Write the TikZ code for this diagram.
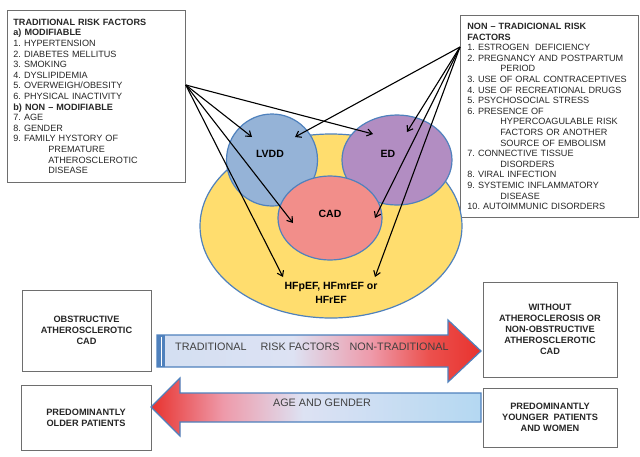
\documentclass[tikz,border=0pt]{standalone}
\usepackage{fontspec}
\setmainfont{Liberation Sans}
\usepackage{xcolor}
\usetikzlibrary{shapes.geometric, arrows.meta, calc}
\frenchspacing
\definecolor{bordoblu}{HTML}{4F81BD}
\definecolor{gialloHF}{HTML}{FFDD6E}
\definecolor{bluLVDD}{HTML}{95B3D7}
\definecolor{violaED}{HTML}{B28DC2}
\definecolor{rossoCAD}{HTML}{F28E8A}
\definecolor{grigiotesto}{HTML}{404040}
\definecolor{grigiobordo}{HTML}{6E6E6E}
\definecolor{rossofreccia}{HTML}{E8322E}
\definecolor{azzurrochiaro}{HTML}{D3DFF2}
\definecolor{azzurrofreccia}{HTML}{B4D8F2}
\definecolor{lilla}{HTML}{DDE2F3}
\definecolor{rosa}{HTML}{EE9AAA}
\pgfdeclarehorizontalshading{frecciadestra}{100bp}{color(0bp)=(azzurrochiaro); color(25bp)=(azzurrochiaro); color(46bp)=(lilla); color(58bp)=(rosa); color(67bp)=(rossofreccia!85!white); color(75bp)=(rossofreccia); color(100bp)=(rossofreccia)}
\pgfdeclarehorizontalshading{frecciasinistra}{100bp}{color(0bp)=(rossofreccia); color(25bp)=(rossofreccia); color(36bp)=(rosa); color(48bp)=(lilla); color(75bp)=(azzurrofreccia); color(100bp)=(azzurrofreccia)}
\tikzset{
  riquadro/.style = {draw=grigiobordo, line width=0.8pt, fill=white, inner sep=0pt, anchor=north west, align=left, text=black!85, font=\fontsize{9.1}{10.6}\selectfont},
  casella/.style = {draw=grigiobordo, line width=0.8pt, inner sep=0pt, align=center, text=black!85, font=\fontsize{9.2}{10.9}\selectfont\bfseries},
  insieme/.style = {ellipse, draw=bordoblu, line width=1.2pt, inner sep=0pt},
  etichetta/.style = {align=center, inner sep=0pt, font=\fontsize{10.5}{14.5}\selectfont\bfseries},
  testofreccia/.style = {inner sep=0pt, text=grigiotesto, font=\fontsize{10.8}{12}\selectfont},
  freccia/.style = {-{Straight Barb[length=5pt, width=7pt]}, line width=1.1pt}
}

\begin{document}
\begin{tikzpicture}[x=1pt, y=-1pt]
    \useasboundingbox (0,0) rectangle (640,456);
    % Fattori tradizionali
    \node[riquadro, minimum width=178, minimum height=172, text width=166] (tradizionali) at (7,10){\textbf{TRADITIONAL RISK FACTORS}\\
      \textbf{a) MODIFIABLE}\\
      1. HYPERTENSION\\
      2. DIABETES MELLITUS\\
      3. SMOKING\\
      4. DYSLIPIDEMIA\\
      5. OVERWEIGH/OBESITY\\
      6. PHYSICAL INACTIVITY\\
      \textbf{b) NON -- MODIFIABLE}\\
      7. AGE\\
      8. GENDER\\
      9. FAMILY HYSTORY OF\\
      \hspace*{35pt}PREMATURE\\
      \hspace*{35pt}ATHEROSCLEROTIC\\
      \hspace*{35pt}DISEASE};
    % Fattori non tradizionali
    \node[riquadro, minimum width=178, minimum height=202, text width=164] (nontradizionali) at (460,15){\textbf{NON -- TRADICIONAL RISK}\\
      \textbf{FACTORS}\\
      1. ESTROGEN\ \ DEFICIENCY\\
      2. PREGNANCY AND POSTPARTUM\\
      \hspace*{33pt}PERIOD\\
      3. USE OF ORAL CONTRACEPTIVES\\
      4. USE OF RECREATIONAL DRUGS\\
      5. PSYCHOSOCIAL STRESS\\
      6. PRESENCE OF\\
      \hspace*{33pt}HYPERCOAGULABLE RISK\\
      \hspace*{33pt}FACTORS OR ANOTHER\\
      \hspace*{33pt}SOURCE OF EMBOLISM\\
      7. CONNECTIVE TISSUE\\
      \hspace*{33pt}DISORDERS\\
      8. VIRAL INFECTION\\
      9. SYSTEMIC INFLAMMATORY\\
      \hspace*{33pt}DISEASE\\
      10. AUTOIMMUNIC DISORDERS};
    % Insiemi
    \node[insieme, fill=gialloHF, minimum width=262, minimum height=184] (scompenso) at (331,226){};
    \node[insieme, fill=bluLVDD, minimum width=91, minimum height=92] (lvdd) at (272,160){};
    \node[insieme, fill=violaED, minimum width=110, minimum height=90] (ed) at (397,160){};
    \node[insieme, fill=rossoCAD, minimum width=104, minimum height=84] (cad) at (330,218){};
    \node[etichetta] (lvddtesto) at (270,154){LVDD};
    \node[etichetta] (edtesto) at (388,154){ED};
    \node[etichetta] (cadtesto) at (330,214){CAD};
    \node[etichetta] (hf) at (331,293){HFpEF, HFmrEF or\\HFrEF};
    % Frecce dai fattori di rischio
    \coordinate (sorgenteT) at ($(tradizionali.north east)+(0,75)$);
    \coordinate (sorgenteN) at ($(nontradizionali.north west)+(0,32)$);
    \draw[freccia] (sorgenteT) -- ([shift={(-20,-23)}]lvdd.center);
    \draw[freccia] (sorgenteT) -- ([shift={(-24,-26)}]ed.center);
    \draw[freccia] (sorgenteT) -- ([shift={(-37,5)}]cad.center);
    \draw[freccia] (sorgenteT) -- ([shift={(-48,-16)}]hf.center);
    \draw[freccia] (sorgenteN) -- ([shift={(23,-23)}]lvdd.center);
    \draw[freccia] (sorgenteN) -- ([shift={(10,-28)}]ed.center);
    \draw[freccia] (sorgenteN) -- ([shift={(45,0)}]cad.center);
    \draw[freccia] (sorgenteN) -- ([shift={(44,-16)}]hf.center);
    % Riquadri in basso
    \node[casella, minimum width=129, minimum height=81] (ostruttiva) at (86.5,330.5){OBSTRUCTIVE\\ATHEROSCLEROTIC\\CAD};
    \node[casella, minimum width=134, minimum height=95] (nonostruttiva) at (550,329.5){WITHOUT\\ATHEROCLEROSIS OR\\NON-OBSTRUCTIVE\\ATHEROSCLEROTIC\\CAD};
    \node[casella, minimum width=130, minimum height=65] (anziani) at (86,417.5){PREDOMINANTLY\\OLDER PATIENTS};
    \node[casella, minimum width=134, minimum height=59] (giovani) at (550,417.5){PREDOMINANTLY\\YOUNGER\ \ PATIENTS\\AND WOMEN};
    % Freccia verso destra
    \shade[shading=frecciadestra] (157,335) -- (448,335) -- (448,320) -- (481,351) -- (448,382) -- (448,367) -- (157,367) -- cycle;
    \fill[bordoblu] (157,335) rectangle (165,367);
    \draw[white, line width=1pt] (161,336.5) -- (161,365.5);
    \draw[bordoblu, line width=1.2pt, line join=miter] (157,335) -- (448,335) -- (448,320) -- (481,351) -- (448,382) -- (448,367) -- (157,367) -- cycle;
    \node[testofreccia, anchor=west] (fattori) at (175,347){TRADITIONAL\hspace{14pt}RISK FACTORS\hspace{10pt}NON-TRADITIONAL};
    % Freccia verso sinistra
    \shade[shading=frecciasinistra, draw=bordoblu, line width=1.2pt] (481,393) -- (180,393) -- (180,378) -- (151,407) -- (180,436) -- (180,422) -- (481,422) -- cycle;
    \node[testofreccia] (eta) at (322,403){AGE AND GENDER};
\end{tikzpicture}
\end{document}
